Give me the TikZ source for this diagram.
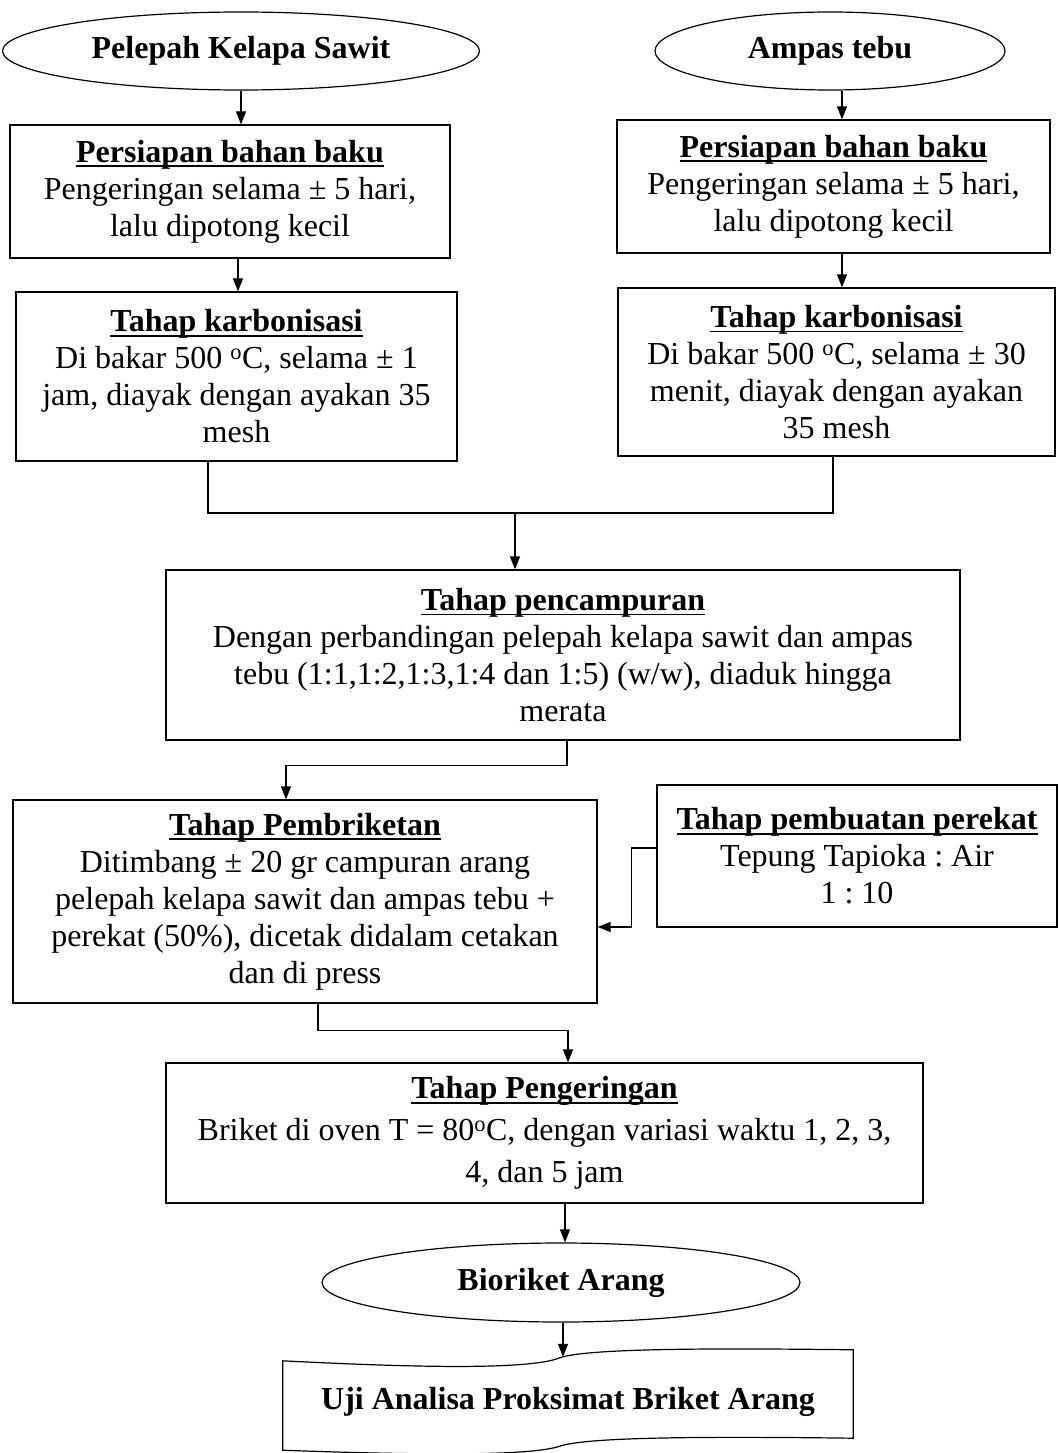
\documentclass[tikz,border=0pt]{standalone}
\usepackage{fontspec}
\setmainfont{Liberation Serif}
\usetikzlibrary{shapes.geometric,arrows.meta,calc}
\newcommand{\hdg}[1]{\setbox0\hbox{\textbf{#1}}\leavevmode\rlap{\raisebox{-5pt}{\rule{\wd0}{1.8pt}}}\box0}
\begin{document}
\frenchspacing
\begin{tikzpicture}[x=1pt,y=-1pt,
  font=\fontsize{32}{37}\selectfont,
  box/.style={draw, line width=1.2pt, rectangle, align=center, inner sep=0pt},
  oval/.style={draw, line width=1.2pt, ellipse, inner sep=0pt, font=\fontsize{32}{37}\selectfont\bfseries},
  arr/.style={line width=1.2pt, -{Triangle[length=13pt,width=10pt]}},
  conn/.style={line width=1.2pt}]
\useasboundingbox (0,0) rectangle (1059,1453);
\fill[white] (0,0) rectangle (1059,1453);

\node[oval, minimum width=477pt, minimum height=78pt] (e1) at (241,51) {Pelepah Kelapa Sawit};
\node[oval, minimum width=350pt, minimum height=78pt] (e2) at (830,51) {Ampas tebu};

\node[box, minimum width=440pt, minimum height=133pt] (b1) at (230,191.5)
  {\hdg{Persiapan bahan baku}\\Pengeringan selama ± 5 hari,\\lalu dipotong kecil};
\node[box, minimum width=433pt, minimum height=133pt] (b2) at (833.5,186.5)
  {\hdg{Persiapan bahan baku}\\Pengeringan selama ± 5 hari,\\lalu dipotong kecil};

\node[box, minimum width=441pt, minimum height=169pt] (b3) at (236.5,376.5)
  {\hdg{Tahap karbonisasi}\\Di bakar 500 \textsuperscript{o}C, selama ± 1\\jam, diayak dengan ayakan 35\\mesh};
\node[box, minimum width=437pt, minimum height=168pt] (b4) at (836.5,372)
  {\hdg{Tahap karbonisasi}\\Di bakar 500 \textsuperscript{o}C, selama ± 30\\menit, diayak dengan ayakan\\35 mesh};

\node[box, minimum width=794pt, minimum height=170pt] (b5) at (563,655)
  {\hdg{Tahap pencampuran}\\Dengan perbandingan pelepah kelapa sawit dan ampas\\tebu (1:1,1:2,1:3,1:4 dan 1:5) (w/w), diaduk hingga\\merata};

\node[box, minimum width=584pt, minimum height=203pt] (b6) at (305,901.5)
  {\hdg{Tahap Pembriketan}\\Ditimbang ± 20 gr campuran arang\\pelepah kelapa sawit dan ampas tebu +\\perekat (50\%), dicetak didalam cetakan\\dan di press};

\node[box, minimum width=400pt, minimum height=142pt] (b7) at (857,856)
  {\hdg{Tahap pembuatan perekat}\\Tepung Tapioka : Air\\1 : 10};

\node[box, minimum width=757pt, minimum height=140pt] (b8) at (544.5,1133)
  {\hdg{Tahap Pengeringan}\\[5pt]Briket di oven T = 80\textsuperscript{o}C, dengan variasi waktu 1, 2, 3,\\[5pt]4, dan 5 jam};

\node[oval, minimum width=478pt, minimum height=79pt] (e3) at (561,1282.5) {Bioriket Arang};

\node[draw=none, minimum width=570pt, minimum height=90pt, inner sep=0pt, font=\fontsize{32}{37}\selectfont\bfseries] (doc) at (568,1402) {Uji Analisa Proksimat Briket Arang};
\draw[conn]
  ($(doc.north west)+(0,4)$) .. controls ($(doc.north west)+(137,11)$) and ($(doc.north west)+(247,13)$) ..
  ($(doc.north west)+(277,1)$) .. controls ($(doc.north west)+(302,-8)$) and ($(doc.north west)+(417,-9)$) ..
  ($(doc.north east)+(0,-7)$) -- ($(doc.south east)+(0,-9)$)
  .. controls ($(doc.south east)+(-153,-11)$) and ($(doc.south east)+(-268,-10)$) ..
  ($(doc.south west)+(277,-1)$) .. controls ($(doc.south west)+(247,9)$) and ($(doc.south west)+(137,8)$) ..
  ($(doc.south west)+(0,3)$) -- cycle;

% connectors
\draw[arr] (e1.south) -- (e1.south |- b1.north);
\draw[arr] ([xshift=12pt]e2.south) -- ([xshift=12pt]e2.south |- b2.north);
\draw[arr] ([xshift=8pt]b1.south) -- ([xshift=8pt]b1.south |- b3.north);
\draw[arr] ([xshift=8.5pt]b2.south) -- ([xshift=8.5pt]b2.south |- b4.north);

\coordinate (j1) at (515,513);
\draw[conn] ([xshift=-28.5pt]b3.south) |- (j1) -| ([xshift=-3.5pt]b4.south);
\draw[arr] (j1) -- (j1 |- b5.north);

\draw[arr] ([xshift=4pt]b5.south) -- ++(0,25) -| ([xshift=-19pt]b6.north);
\draw[arr] ([yshift=8pt]b7.west) -- ++(-25,0) |- ([yshift=-25.5pt]b6.east);
\draw[arr] ([xshift=13pt]b6.south) -- ++(0,27) -| ([xshift=23.5pt]b8.north);
\draw[arr] ([xshift=20.5pt]b8.south) -- ([xshift=20.5pt]b8.south |- e3.north);
\draw[arr] ([xshift=2pt]e3.south) -- ([xshift=2pt]e3.south |- doc.north);
\end{tikzpicture}
\end{document}
